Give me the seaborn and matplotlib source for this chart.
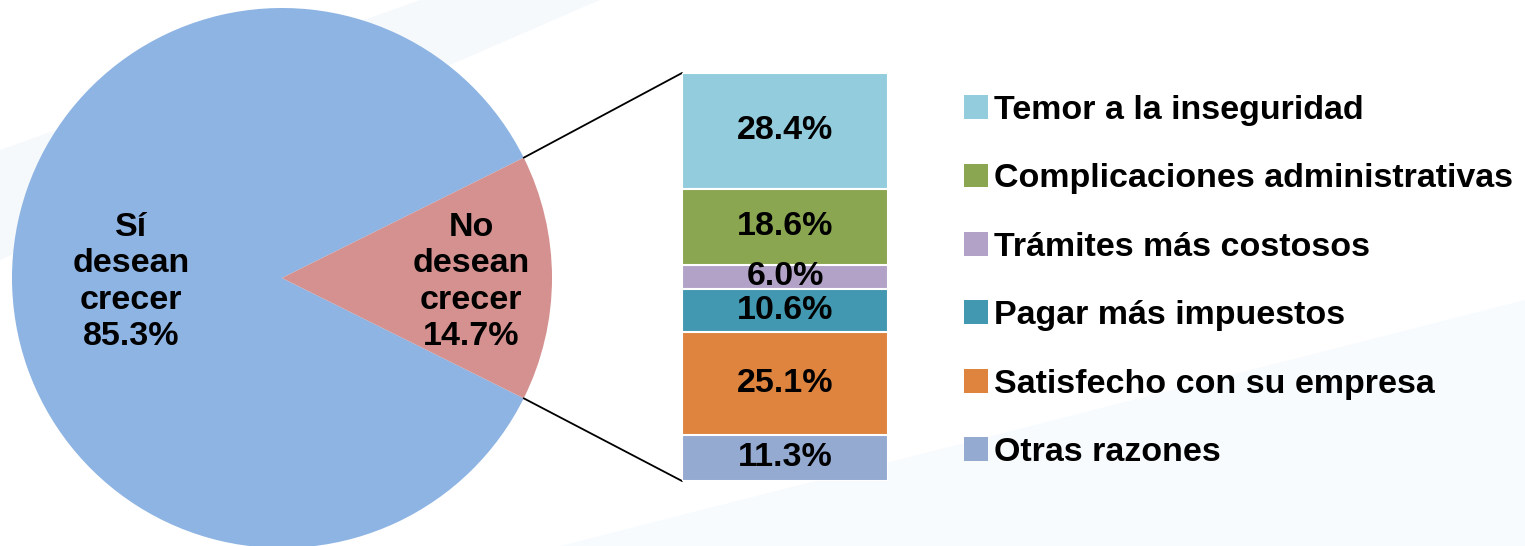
import numpy as np
import pandas as pd
import seaborn as sns
import matplotlib.pyplot as plt
from matplotlib.patches import Patch, Polygon

# datos del grafico
pie_labels = ["Sí\ndesean\ncrecer", "No\ndesean\ncrecer"]
pie_values = [85.3, 14.7]
pie_colors = ["#8EB4E3", "#D4918F"]

reasons = ["Temor a la inseguridad", "Complicaciones administrativas",
           "Trámites más costosos", "Pagar más impuestos",
           "Satisfecho con su empresa", "Otras razones"]
reason_values = [28.4, 18.6, 6.0, 10.6, 25.1, 11.3]
reason_colors = ["#93CDDD", "#8AA650", "#B3A2C7", "#4298B0", "#DE843E", "#95AAD1"]

sns.set_theme(style="white")
plt.rcParams['font.family'] = ['Liberation Sans', 'DejaVu Sans']

W, H = 1525, 546
fig = plt.figure(figsize=(W / 100, H / 100), dpi=100)
fig.patch.set_facecolor("white")

# ejes principales en pixeles
ax = fig.add_axes([0, 0, 1, 1])
cx, cy, r = 282, 278, 270
start = 360 * pie_values[1] / 100 / 2
wedges, _ = ax.pie(pie_values, colors=pie_colors, startangle=start,
                   center=(cx, cy), radius=r, counterclock=True,
                   wedgeprops=dict(linewidth=0))
ax.set_xlim(0, W)
ax.set_ylim(H, 0)
ax.set_aspect("auto")
ax.axis("off")

# fondo tenue
ax.add_patch(Polygon([[0, 150], [420, 0], [600, 0], [0, 260]], closed=True,
                     facecolor="#f6f9fc", edgecolor="none", zorder=0))
ax.add_patch(Polygon([[560, 546], [1525, 300], [1525, 546]], closed=True,
                     facecolor="#f8fbfe", edgecolor="none", zorder=0))
for w in wedges:
    w.set_zorder(1)

label_dist = [0.56, 0.70]
for w, lab, val, d in zip(wedges, pie_labels, pie_values, label_dist):
    th = np.deg2rad((w.theta1 + w.theta2) / 2)
    ax.text(cx + d * r * np.cos(th), cy + d * r * np.sin(th) + 4,
            lab + "\n" + f"{val:.1f}%", ha="center", va="center",
            fontsize=24.5, fontweight="bold", color="black",
            linespacing=1.22, zorder=3)

# barra apilada
bx0, by0, bx1, by1 = 682, 73, 888, 481
axb = fig.add_axes([bx0 / W, 1 - by1 / H, (bx1 - bx0) / W, (by1 - by0) / H])
tops = np.cumsum(reason_values[::-1])[::-1]
df = pd.DataFrame({"pos": [0] * len(reasons), "top": tops, "reason": reasons})
sns.barplot(data=df, x="pos", y="top", hue="reason", hue_order=reasons,
            palette=reason_colors, dodge=False, width=1, saturation=1,
            edgecolor="white", linewidth=1.5, legend=False, ax=axb)
axb.set_xlim(-0.5, 0.5)
axb.set_ylim(0, 100)
axb.axis("off")
for t, v in zip(tops, reason_values):
    axb.text(0, t - v / 2, f"{v:.1f}%", ha="center", va="center",
             fontsize=24.5, fontweight="bold", color="black")

# lineas de conexion
small = wedges[1]
for ang, (px, py) in zip([small.theta1, small.theta2], [(bx0, by0), (bx0, by1)]):
    th = np.deg2rad(ang)
    ax.plot([cx + r * np.cos(th), px], [cy + r * np.sin(th), py],
            color="black", lw=1.3, zorder=2)

# leyenda
handles = [Patch(facecolor=c, edgecolor="none", label=l)
           for c, l in zip(reason_colors, reasons)]
leg = fig.legend(handles=handles, loc="upper left",
                 bbox_to_anchor=(964 / W, 1 - 95 / H), frameon=False,
                 borderpad=0, borderaxespad=0, handlelength=0.7,
                 handleheight=0.7, handletextpad=0.18, labelspacing=1.1,
                 labelcolor="black", prop=dict(size=24.5, weight="bold"))

fig.savefig("out.png", dpi=100)
